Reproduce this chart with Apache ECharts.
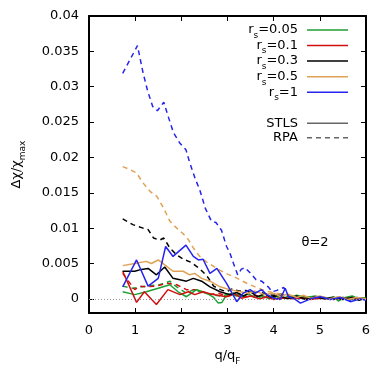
<!DOCTYPE html>
<html lang="en">
<head>
<meta charset="utf-8">
<title>chi difference</title>
<script src="https://cdn.jsdelivr.net/npm/echarts@6.0.0/dist/echarts.min.js"></script>
<style>
html, body { margin: 0; padding: 0; background: #fff; }
#main { width: 390px; height: 379px; }
</style>
</head>
<body>
<div id="main"></div>
<script>
// tick labels
var xTicks = [0, 1, 2, 3, 4, 5, 6];
var yTicks = [0, 0.005, 0.01, 0.015, 0.02, 0.025, 0.03, 0.035, 0.04];

// legend entries
var rsNames = ['0.05', '0.1', '0.3', '0.5', '1'];
var rsColors = ['#1f9e32', '#d01010', '#000000', '#e0a256', '#2525ee'];

// STLS curves [q/qF, value]
var g_stls = [[0.73,0.0010],[0.99,0.0006],[1.24,0.0010],[1.5,0.0015],[1.75,0.0020],[1.93,0.0010],[2.11,0.0003],[2.33,0.0013],[2.55,0.0008],[2.7,0.0002],[2.8,-0.0006],[2.88,-0.0005],[2.98,0.0006],[3.13,0.0008],[3.3,0.0003],[3.45,0.0007],[3.6,0.0002],[3.75,0.0005],[3.9,0.0],[4.1,0.0004],[4.3,0.0001],[4.5,0.0005],[4.7,0.0002],[4.9,0.0004],[5.1,0.0],[5.3,0.0003],[5.4,-0.0003],[5.55,0.0002],[5.7,0.0004],[5.85,0.0],[6.0,0.0002]];
var r_stls = [[0.73,0.0039],[1.03,-0.0005],[1.2,0.0010],[1.46,-0.0008],[1.71,0.0013],[1.97,0.0006],[2.15,0.0010],[2.29,0.0006],[2.47,0.0010],[2.69,0.0006],[2.98,0.0003],[3.15,0.0007],[3.3,0.0001],[3.5,0.0004],[3.7,0.0],[3.85,0.0003],[4.0,-0.0001],[4.2,0.0002],[4.4,0.0],[4.6,0.0002],[4.8,-0.0001],[5.0,0.0001],[5.3,0.0],[5.6,0.0001],[6.0,-0.0001]];
var k_stls = [[0.73,0.0039],[0.99,0.0039],[1.1,0.0041],[1.28,0.0043],[1.46,0.0034],[1.64,0.0045],[1.82,0.0029],[1.97,0.0027],[2.11,0.0025],[2.26,0.0029],[2.44,0.0025],[2.62,0.0017],[2.84,0.0010],[3.05,0.0006],[3.2,0.0009],[3.35,0.0004],[3.5,0.0010],[3.65,0.0003],[3.8,0.0007],[3.95,0.0002],[4.1,0.0005],[4.3,0.0],[4.5,0.0004],[4.7,-0.0001],[4.9,0.0003],[5.1,0.0],[5.3,0.0002],[5.5,-0.0001],[5.7,0.0002],[5.85,-0.0002],[6.0,0.0001]];
var o_stls = [[0.73,0.0047],[0.99,0.0050],[1.24,0.0053],[1.35,0.0050],[1.5,0.0055],[1.64,0.0048],[1.82,0.0039],[2.04,0.0039],[2.18,0.0034],[2.29,0.0036],[2.44,0.0029],[2.62,0.0025],[2.84,0.0017],[3.05,0.0013],[3.27,0.0010],[3.45,0.0008],[3.6,0.0011],[3.8,0.0006],[4.0,0.0008],[4.15,0.0003],[4.3,0.0007],[4.5,0.0002],[4.65,0.0005],[4.8,0.0001],[5.0,0.0004],[5.2,0.0],[5.4,0.0003],[5.6,-0.0001],[5.8,0.0002],[6.0,0.0]];
var b_stls = [[0.73,0.0017],[1.03,0.0055],[1.28,0.0018],[1.5,0.0029],[1.66,0.0074],[1.82,0.0060],[2.1,0.0076],[2.26,0.0060],[2.37,0.0055],[2.47,0.0056],[2.62,0.0036],[2.77,0.0043],[2.98,0.0022],[3.2,-0.0004],[3.34,0.0008],[3.49,0.0013],[3.6,0.0008],[3.74,0.0013],[3.85,0.0006],[4.0,0.0001],[4.14,-0.0001],[4.25,0.0015],[4.32,0.0003],[4.45,0.0],[4.58,-0.0006],[4.8,0.0],[5.01,0.0003],[5.23,-0.0001],[5.45,0.0002],[5.66,-0.0004],[5.88,0.0],[6.0,-0.0002]];

// RPA curves [q/qF, value]
var g_rpa = [[0.73,0.0018],[0.95,0.0015],[1.24,0.0018],[1.53,0.0020],[1.75,0.0025],[1.9,0.0017],[2.11,0.0008],[2.26,0.0013],[2.45,0.0009],[2.65,0.0006],[2.85,0.0004],[3.05,0.0007],[3.25,0.0003],[3.45,0.0005],[3.65,0.0002],[3.85,0.0004],[4.05,0.0001],[4.3,0.0003],[4.6,0.0],[4.9,0.0002],[5.2,0.0],[5.5,0.0001],[5.8,0.0],[6.0,0.0001]];
var r_rpa = [[0.73,0.0036],[0.99,0.0013],[1.1,0.0018],[1.24,0.0017],[1.46,0.0018],[1.68,0.0022],[1.9,0.0020],[2.11,0.0013],[2.37,0.0013],[2.58,0.0006],[2.8,0.0008],[3.0,0.0004],[3.2,0.0006],[3.4,0.0003],[3.6,0.0005],[3.8,0.0002],[4.0,0.0003],[4.2,0.0001],[4.4,0.0002],[4.7,0.0],[5.0,0.0001],[5.3,0.0],[5.6,0.0001],[6.0,0.0]];
var k_rpa = [[0.73,0.0113],[0.95,0.0105],[1.17,0.0100],[1.28,0.0098],[1.4,0.0086],[1.53,0.0083],[1.62,0.0086],[1.75,0.0072],[1.9,0.0062],[2.05,0.0056],[2.2,0.0052],[2.35,0.0045],[2.47,0.0038],[2.58,0.0030],[2.7,0.0018],[2.85,0.0013],[2.98,0.0010],[3.1,0.0014],[3.25,0.0011],[3.4,0.0012],[3.55,0.0008],[3.7,0.0010],[3.85,0.0006],[4.0,0.0005],[4.15,0.0007],[4.3,0.0003],[4.5,0.0002],[4.7,0.0003],[4.9,0.0001],[5.1,0.0002],[5.3,-0.0001],[5.5,0.0002],[5.7,0.0],[6.0,0.0001]];
var o_rpa = [[0.73,0.0187],[0.88,0.0183],[1.03,0.0178],[1.17,0.0164],[1.32,0.0152],[1.47,0.0145],[1.62,0.0128],[1.75,0.0110],[1.9,0.0100],[2.04,0.0092],[2.15,0.0084],[2.26,0.0072],[2.4,0.0060],[2.55,0.0052],[2.7,0.0046],[2.85,0.0040],[3.0,0.0035],[3.15,0.0031],[3.3,0.0026],[3.45,0.0021],[3.6,0.0017],[3.75,0.0013],[3.9,0.0010],[4.05,0.0008],[4.2,0.0006],[4.35,0.0005],[4.5,0.0004],[4.65,0.0003],[4.8,0.0003],[4.95,0.0002],[5.1,0.0002],[5.3,0.0001],[5.5,0.0001],[5.7,0.0001],[6.0,0.0]];
var b_rpa = [[0.73,0.0319],[1.05,0.0358],[1.17,0.0320],[1.27,0.0294],[1.38,0.0272],[1.48,0.0266],[1.62,0.0278],[1.72,0.0257],[1.83,0.0235],[1.97,0.0220],[2.1,0.0211],[2.18,0.0193],[2.3,0.0170],[2.4,0.0154],[2.52,0.0128],[2.65,0.0110],[2.75,0.0108],[2.87,0.0097],[2.98,0.0074],[3.05,0.0065],[3.13,0.0050],[3.22,0.0034],[3.3,0.0042],[3.38,0.0044],[3.5,0.0036],[3.62,0.0027],[3.74,0.0025],[3.88,0.0017],[3.97,0.0010],[4.07,0.0012],[4.22,0.0016],[4.32,0.0004],[4.45,0.0002],[4.6,-0.0001],[4.75,0.0003],[4.9,0.0001],[5.05,0.0002],[5.2,-0.0001],[5.35,0.0003],[5.5,0.0001],[5.65,-0.0002],[5.8,0.0002],[6.0,-0.0001]];

var stlsData = [g_stls, r_stls, k_stls, o_stls, b_stls];
var rpaData = [g_rpa, r_rpa, k_rpa, o_rpa, b_rpa];

var FONT = 'DejaVu Sans';
var myChart = echarts.init(document.getElementById('main'), null, { renderer: 'canvas' });

var series = [];
// zero reference line
series.push({
	type: 'line',
	data: [],
	silent: true,
	markLine: {
		silent: true,
		symbol: 'none',
		label: { show: false },
		lineStyle: { color: '#999', type: [1, 2], width: 1 },
		data: [{ yAxis: 0 }]
	}
});
for (var i = 0; i < 5; i++) {
	series.push({
		name: 'rpa' + i,
		type: 'line',
		data: rpaData[i],
		showSymbol: false,
		smooth: false,
		lineStyle: { color: rsColors[i], width: 1.5, type: [5, 4] },
		z: 2
	});
}
for (var i = 0; i < 5; i++) {
	series.push({
		name: 'stls' + i,
		type: 'line',
		data: stlsData[i],
		showSymbol: false,
		smooth: false,
		lineStyle: { color: rsColors[i], width: 1.5 },
		z: 3
	});
}

// legend drawn as graphic
var graphics = [];
var rowY = [30, 45.5, 61, 76.7, 92.3];
for (var i = 0; i < 5; i++) {
	graphics.push({
		type: 'text',
		x: 298, y: rowY[i],
		style: {
			text: '{n|r}{s|s}{n|=' + rsNames[i] + '}',
			align: 'right', verticalAlign: 'middle',
			rich: {
				n: { fontFamily: FONT, fontSize: 13, lineHeight: 20, fill: '#000' },
				s: { fontFamily: FONT, fontSize: 9, lineHeight: 20, verticalAlign: 'bottom', fill: '#000' }
			}
		}
	});
	graphics.push({
		type: 'line',
		shape: { x1: 307, y1: rowY[i], x2: 348, y2: rowY[i] },
		style: { stroke: rsColors[i], lineWidth: 1.5 }
	});
}
var modelNames = ['STLS', 'RPA'];
var modelY = [123.3, 137.7];
for (var j = 0; j < 2; j++) {
	graphics.push({
		type: 'text',
		x: 298, y: modelY[j],
		style: { text: modelNames[j], align: 'right', verticalAlign: 'middle', fontFamily: FONT, fontSize: 13, fill: '#000' }
	});
	graphics.push({
		type: 'line',
		shape: { x1: 307, y1: modelY[j], x2: 348, y2: modelY[j] },
		style: { stroke: '#666', lineWidth: 1.5, lineDash: j === 1 ? [5, 4] : null }
	});
}
graphics.push({
	type: 'text',
	x: 315, y: 243,
	style: { text: 'θ=2', align: 'center', verticalAlign: 'middle', fontFamily: FONT, fontSize: 13, fill: '#000' }
});

var option = {
	animation: false,
	backgroundColor: '#fff',
	grid: { left: 89, right: 24, top: 16, bottom: 66, show: false },
	xAxis: [{
		type: 'value', min: 0, max: 6, interval: 1,
		name: '{n|q/q}{s|F}', nameLocation: 'middle', nameGap: 33,
		nameTextStyle: {
			rich: {
				n: { fontFamily: FONT, fontSize: 13, lineHeight: 20, color: '#000' },
				s: { fontFamily: FONT, fontSize: 9, lineHeight: 20, verticalAlign: 'bottom', color: '#000' }
			}
		},
		axisLine: { show: true, onZero: false, lineStyle: { color: '#000', width: 2 } },
		axisTick: { show: true, inside: true, length: 5, lineStyle: { color: '#000', width: 1 } },
		axisLabel: { margin: 11, fontFamily: FONT, fontSize: 13, color: '#000',
			formatter: function (v) { return xTicks.indexOf(v) >= 0 ? String(v) : ''; } },
		splitLine: { show: false }
	}, {
		type: 'value', min: 0, max: 6, interval: 1, position: 'top',
		axisLine: { show: true, onZero: false, lineStyle: { color: '#000', width: 2 } },
		axisTick: { show: true, inside: true, length: 5, lineStyle: { color: '#000', width: 1 } },
		axisLabel: { show: false },
		splitLine: { show: false }
	}],
	yAxis: [{
		type: 'value', min: -0.002, max: 0.04,
		name: '{n|Δχ/χ}{s|max}', nameLocation: 'middle', nameGap: 62, nameRotate: 90,
		nameTextStyle: {
			rich: {
				n: { fontFamily: FONT, fontSize: 13, lineHeight: 20, color: '#000' },
				s: { fontFamily: FONT, fontSize: 9, lineHeight: 20, verticalAlign: 'bottom', color: '#000' }
			}
		},
		axisLine: { show: true, onZero: false, lineStyle: { color: '#000', width: 2 } },
		axisTick: { show: true, inside: true, length: 5, customValues: yTicks, lineStyle: { color: '#000', width: 1 } },
		axisLabel: { margin: 10, fontFamily: FONT, fontSize: 13, color: '#000', customValues: yTicks,
			formatter: function (v) { return String(+v.toFixed(3)); } },
		splitLine: { show: false }
	}, {
		type: 'value', min: -0.002, max: 0.04, position: 'right',
		axisLine: { show: true, onZero: false, lineStyle: { color: '#000', width: 2 } },
		axisTick: { show: true, inside: true, length: 5, customValues: yTicks, lineStyle: { color: '#000', width: 1 } },
		axisLabel: { show: false, customValues: yTicks },
		splitLine: { show: false }
	}],
	graphic: graphics,
	series: series
};
myChart.setOption(option);
window.addEventListener('resize', function () { myChart.resize(); });
</script>
</body>
</html>
